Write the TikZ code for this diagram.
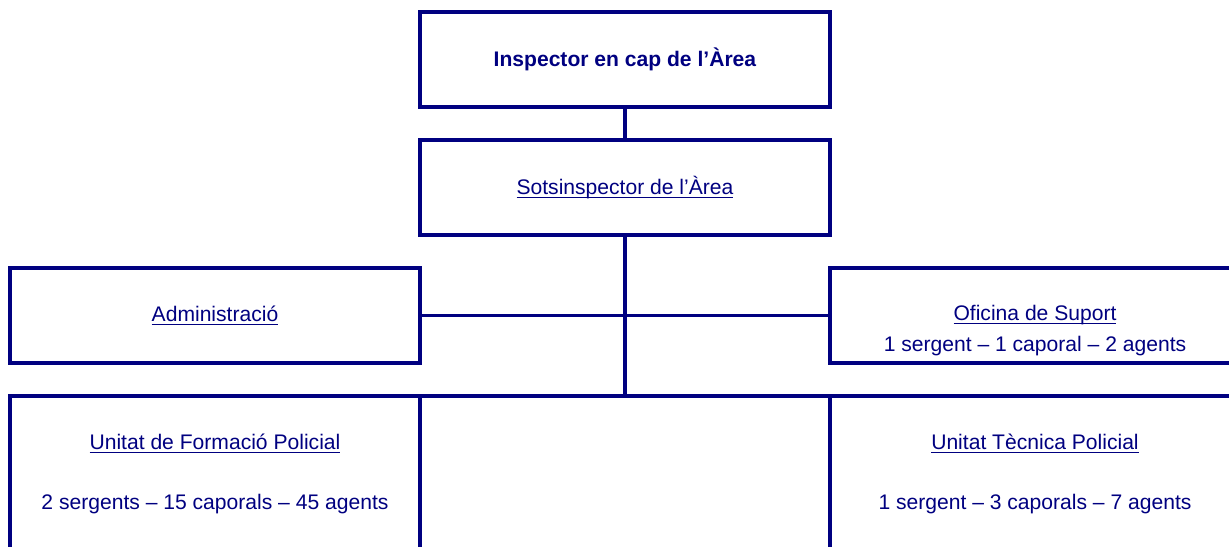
\documentclass[tikz,border=0pt]{standalone}
\usepackage{fontspec}
\setmainfont{Liberation Sans}
\usetikzlibrary{positioning}
\definecolor{navyline}{RGB}{0,0,128}

\begin{document}
\begin{tikzpicture}[node distance=0.66cm,font=\fontsize{12}{14}\selectfont,text=navyline]
\tikzstyle{unit}=[rectangle, draw=navyline, line width=1.8pt, outer sep=0pt, minimum width=8.2cm, minimum height=1.9cm, inner sep=0pt]
\tikzstyle{unitlow}=[unit, minimum height=4cm]
\tikzstyle{link}=[draw=navyline, line width=1.8pt]
\tikzstyle{caption}=[align=center, inner sep=0pt]
\useasboundingbox (0,0) rectangle (24.58,-10.94);
\clip (0,0) rectangle (24.58,-10.94);
\node[unit](INSP) at (12.5,-1.19){\textbf{Inspector en cap de l’Àrea}};
\node[unit][below=of INSP](SOTS){\underbar{Sotsinspector de l’Àrea}};
\node[unit][below left=0.66cm and 0cm of SOTS](ADM){\underbar{Administració}};
\node[unit][below right=0.66cm and 0cm of SOTS](OFI){};
\node[unitlow][below=of ADM](UFP){};
\node[unitlow][below=of OFI](UTP){};
\node[caption](OFItxt) at ([yshift=-0.3cm]OFI.center){\underbar{Oficina de Suport}\\[3.6pt]1 sergent – 1 caporal – 2 agents};
\node[caption](UFPtxt) at ([yshift=-1.56cm]UFP.north){\underbar{Unitat de Formació Policial}\\[20pt]2 sergents – 15 caporals – 45 agents};
\node[caption](UTPtxt) at ([yshift=-1.56cm]UTP.north){\underbar{Unitat Tècnica Policial}\\[20pt]1 sergent – 3 caporals – 7 agents};
\path[link] (INSP)--(SOTS)
            (SOTS.south)--(SOTS.south |- UFP.north)
            (ADM)--(OFI)
            (UFP.north east)--(UTP.north west);
\end{tikzpicture}
\end{document}
